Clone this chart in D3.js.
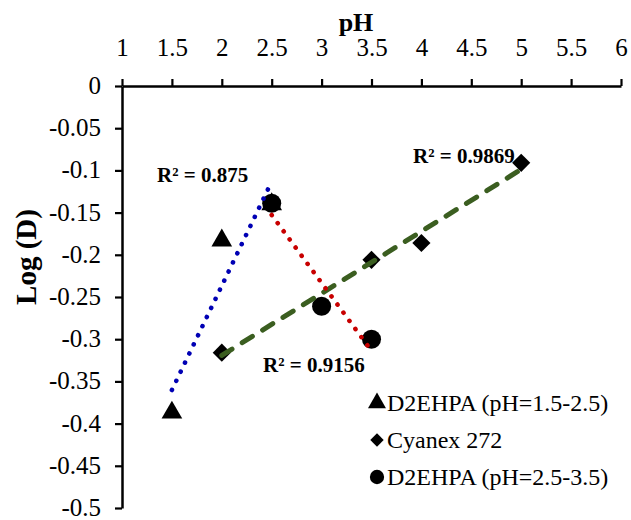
<!DOCTYPE html>
<html>
<head>
<meta charset="utf-8">
<script src="https://cdn.jsdelivr.net/npm/d3@7"></script>
<style>
  html, body { margin: 0; padding: 0; background: #fff; }
  svg { display: block; }
  svg text { font-family: "Liberation Serif", "Times New Roman", serif; }
</style>
</head>
<body>
<svg id="chart" width="631" height="520"></svg>
<script>
// pH tick values (top axis) and Log(D) tick values (left axis)
const xTicks = [1, 1.5, 2, 2.5, 3, 3.5, 4, 4.5, 5, 5.5, 6];
const yTicks = [0, -0.05, -0.1, -0.15, -0.2, -0.25, -0.3, -0.35, -0.4, -0.45, -0.5];

// D2EHPA, low pH range (triangles)
const d2ehpaLowPH   = [1.5, 2, 2.5];
const d2ehpaLowLogD = [-0.387, -0.183, -0.140];

// Cyanex 272 (diamonds)
const cyanexPH   = [2, 3.5, 4, 5];
const cyanexLogD = [-0.316, -0.206, -0.186, -0.091];

// D2EHPA, high pH range (circles)
const d2ehpaHighPH   = [2.5, 3, 3.5];
const d2ehpaHighLogD = [-0.139, -0.261, -0.300];

const seriesNames = ["D2EHPA (pH=1.5-2.5)", "Cyanex 272", "D2EHPA (pH=2.5-3.5)"];
const r2Labels = ["R\u00B2 = 0.875", "R\u00B2 = 0.9869", "R\u00B2 = 0.9156"];

const FONT = '"Liberation Serif", "Times New Roman", serif';
const svg = d3.select("#chart");

const x = d3.scaleLinear().domain([1, 6]).range([122, 621]);
const y = d3.scaleLinear().domain([0, -0.5]).range([86, 508]);

// Axes
const xAxis = svg.append("g")
  .attr("transform", `translate(0,${y(0)})`)
  .call(d3.axisTop(x).tickValues(xTicks).tickSize(7).tickSizeOuter(0).tickPadding(23).tickFormat(d => String(d)));
const yAxis = svg.append("g")
  .attr("transform", `translate(${x(1)},0)`)
  .call(d3.axisLeft(y).tickValues(yTicks).tickSize(7).tickSizeOuter(0).tickPadding(14).tickFormat(d => String(d)));

[xAxis, yAxis].forEach(g => {
  g.attr("font-family", FONT);
  g.selectAll("path.domain").attr("stroke", "#000").attr("stroke-width", 2.5);
  g.selectAll(".tick line").attr("stroke", "#000").attr("stroke-width", 2.2);
  g.selectAll(".tick text")
    .attr("font-family", FONT)
    .attr("font-size", 25).attr("fill", "#000");
});
yAxis.selectAll(".tick text").attr("dy", "0.3em");

// Axis titles
svg.append("text")
  .attr("x", 356).attr("y", 31)
  .attr("text-anchor", "middle")
  .attr("font-family", FONT)
  .attr("font-size", 26).attr("font-weight", "bold")
  .text("pH");
svg.append("text")
  .attr("transform", "translate(36,257) rotate(-90)")
  .attr("text-anchor", "middle")
  .attr("font-family", FONT)
  .attr("font-size", 29).attr("font-weight", "bold")
  .text("Log (D)");

// Least-squares line over the x range of a series
function fit(xs, ys) {
  const n = xs.length;
  const mx = d3.mean(xs), my = d3.mean(ys);
  let sxy = 0, sxx = 0;
  for (let i = 0; i < n; i++) { sxy += (xs[i] - mx) * (ys[i] - my); sxx += (xs[i] - mx) ** 2; }
  const b = sxy / sxx, a = my - b * mx;
  const x0 = d3.min(xs), x1 = d3.max(xs);
  return [[x0, a + b * x0], [x1, a + b * x1]];
}

const series = [
  { xs: d2ehpaLowPH,  ys: d2ehpaLowLogD,  shape: "triangle", size: 185, lineColor: "#0000b4", dash: "0.1 10", lw: 4.6 },
  { xs: cyanexPH,     ys: cyanexLogD,     shape: "diamond",  size: 165, lineColor: "#3b5e20", dash: "12 12",  lw: 5 },
  { xs: d2ehpaHighPH, ys: d2ehpaHighLogD, shape: "circle",   size: 285, lineColor: "#c80000", dash: "0.1 10", lw: 4.6 }
];

function markerPath(shape, size) {
  if (shape === "diamond") {
    // square turned 45 degrees
    const h = Math.sqrt(size / 2);
    return `M0,${-h}L${h},0L0,${h}L${-h},0Z`;
  }
  const t = shape === "triangle" ? d3.symbolTriangle : d3.symbolCircle;
  return d3.symbol().type(t).size(size)();
}

// Markers
series.forEach(s => {
  svg.append("g").selectAll("path")
    .data(s.xs.map((v, i) => [v, s.ys[i]]))
    .join("path")
    .attr("transform", d => `translate(${x(d[0])},${y(d[1])})`)
    .attr("d", markerPath(s.shape, s.size))
    .attr("fill", "#000");
});

// Trendlines
const line = d3.line().x(d => x(d[0])).y(d => y(d[1]));
series.forEach(s => {
  svg.append("path")
    .attr("d", line(fit(s.xs, s.ys)))
    .attr("fill", "none")
    .attr("stroke", s.lineColor)
    .attr("stroke-width", s.lw)
    .attr("stroke-linecap", "round")
    .attr("stroke-dasharray", s.dash);
});

// R² annotations
const r2Pos = [[157, 182], [413, 163], [263, 372]];
r2Labels.forEach((t, i) => {
  svg.append("text")
    .attr("x", r2Pos[i][0]).attr("y", r2Pos[i][1])
    .attr("font-family", FONT)
    .attr("font-size", 21).attr("font-weight", "bold")
    .text(t);
});

// Legend
const legend = svg.append("g").attr("transform", "translate(377,0)");
const legendY = [403, 440, 477];
const legendSizes = [140, 90, 160];
series.forEach((s, i) => {
  legend.append("path")
    .attr("transform", `translate(0,${legendY[i]})`)
    .attr("d", markerPath(s.shape, legendSizes[i]))
    .attr("fill", "#000");
  legend.append("text")
    .attr("x", 10).attr("y", legendY[i] + 8)
    .attr("font-family", FONT)
    .attr("font-size", 24)
    .text(seriesNames[i]);
});
</script>
</body>
</html>
